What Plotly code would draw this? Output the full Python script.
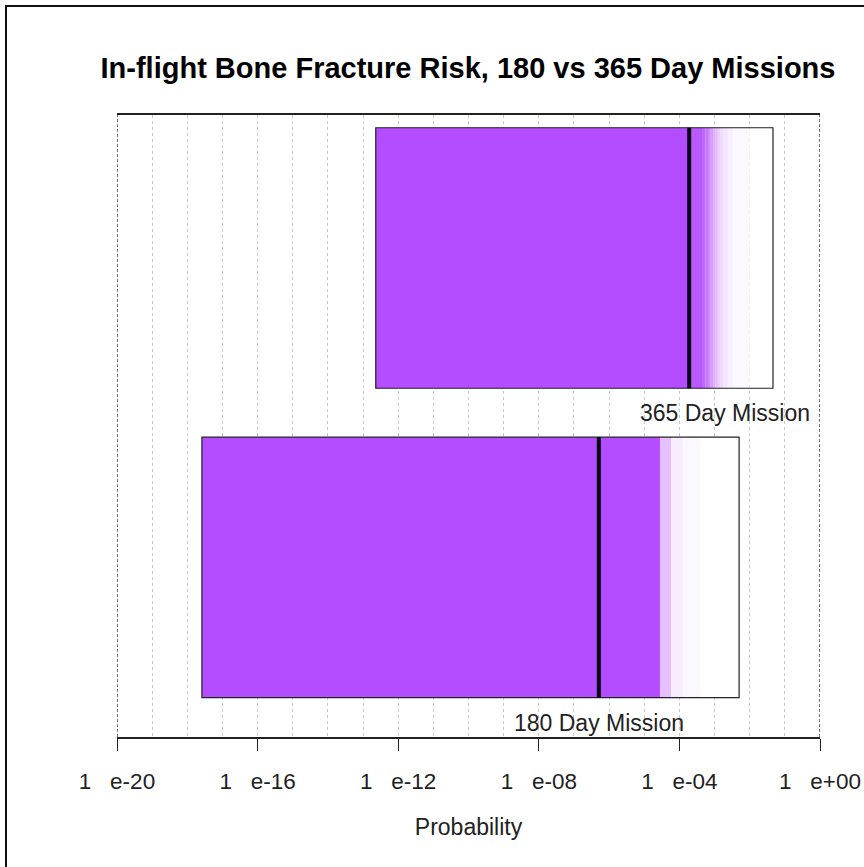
import numpy as np
import plotly.graph_objects as go

# ---- data (probabilities) ----
missions = ["180 Day Mission", "365 Day Mission"]
y_center = [0.651, 1.839]
lower = [2.6e-18, 2.3e-13]
upper = [5.0e-3, 4.6e-2]
median = [5.1e-7, 1.9e-4]

# shaded bands: upper edge of each band and its shade (1 = full purple, 0 = white)
band_edges_180 = [5.1e-7, 2.8e-5, 5.8e-5, 1.26e-4, 3.9e-4, 5.0e-3]
band_shade_180 = [1.0, 1.0, 0.35, 0.1, 0.04, 0.0]
band_edges_365 = [1.9e-4, 4.4e-4, 5.5e-4, 6.5e-4, 7.8e-4, 9.1e-4, 1.08e-3, 1.26e-3,
                  1.5e-3, 1.74e-3, 2.4e-3, 3.4e-3, 1.0e-2, 4.6e-2]
band_shade_365 = [1.0, 0.93, 0.86, 0.78, 0.66, 0.55, 0.44, 0.35, 0.27, 0.2, 0.14, 0.09, 0.04, 0.0]

label_x = [5.1e-7, 2.0e-3]
label_y = [0.054, 1.244]

tick_exp = list(range(-20, 1, 4))
tick_text = ["1\u00a0\u00a0\u00a0e-20", "1\u00a0\u00a0\u00a0e-16", "1\u00a0\u00a0\u00a0e-12",
             "1\u00a0\u00a0\u00a0e-08", "1\u00a0\u00a0\u00a0e-04", "1\u00a0\u00a0\u00a0e+00"]

PURPLE = (180, 76, 255)
FONT = "Liberation Sans, Arial"


def shade_col(s):
    r, g, b = (round(255 * (1 - s) + c * s) for c in PURPLE)
    return f"rgb({r},{g},{b})"


fig = go.Figure()

bands = [(band_edges_180, band_shade_180), (band_edges_365, band_shade_365)]
for i, (edges, shades) in enumerate(bands):
    lo = np.log10([lower[i]] + edges[:-1])
    hi = np.log10(edges)
    fig.add_trace(go.Bar(
        orientation="h", y=[y_center[i]] * len(hi), x=hi - lo, base=lo,
        width=1.0, marker=dict(color=[shade_col(s) for s in shades], line=dict(width=0)),
        showlegend=False, hoverinfo="skip"))
    # outline
    fig.add_trace(go.Bar(
        orientation="h", y=[y_center[i]], x=[np.log10(upper[i]) - np.log10(lower[i])],
        base=[np.log10(lower[i])], width=1.0,
        marker=dict(color="rgba(0,0,0,0)", line=dict(color="#222222", width=1.2)),
        showlegend=False, hoverinfo="skip"))
    # median line
    mx = np.log10(median[i])
    fig.add_trace(go.Scatter(
        x=[mx, mx], y=[y_center[i] - 0.5, y_center[i] + 0.5], mode="lines",
        line=dict(color="#0a0010", width=4), showlegend=False, hoverinfo="skip"))
    fig.add_annotation(x=np.log10(label_x[i]), y=label_y[i], text=missions[i],
                       showarrow=False, xanchor="center", yanchor="middle",
                       font=dict(family=FONT, size=23, color="#222222"))

# dark dashed lines at plot edges
for xe in [-20, 0]:
    fig.add_shape(type="line", x0=xe, x1=xe, y0=0, y1=1, xref="x", yref="paper",
                  line=dict(color="#444444", width=1.5, dash="3px,2px"))

# outer frame (top and left visible)
fig.add_shape(type="rect", xref="paper", yref="paper",
              x0=(6 - 117) / 703, x1=(880 - 117) / 703,
              y0=(737 - 880) / 622, y1=(737 - 6) / 622,
              line=dict(color="#111111", width=2), fillcolor="rgba(0,0,0,0)", layer="above")

fig.update_layout(
    width=864, height=867, autosize=False,
    margin=dict(l=117, r=44, t=115, b=130, autoexpand=False),
    paper_bgcolor="white", plot_bgcolor="white",
    barmode="overlay",
    title=dict(text="<b>In-flight Bone Fracture Risk, 180 vs 365 Day Missions</b>",
               x=(468 / 864), xanchor="center", y=1 - 68 / 867, yanchor="middle",
               font=dict(family=FONT, size=29, color="black")),
    font=dict(family=FONT, color="#222222"),
)
fig.update_xaxes(
    range=[-20, 0], tickmode="array", tickvals=tick_exp, ticktext=tick_text,
    ticks="outside", ticklen=12, tickwidth=1.2, tickcolor="#222222",
    ticklabelstandoff=11, automargin=False,
    tickfont=dict(family=FONT, size=22.5, color="#222222"),
    showline=True, linecolor="#222222", linewidth=1.5, mirror=True,
    showgrid=True, gridcolor="#c8c8c8", griddash="dot", gridwidth=1,
    minor=dict(tickvals=list(range(-20, 1)), showgrid=True, gridcolor="#c8c8c8",
               griddash="dot", gridwidth=1, ticks=""),
    zeroline=False,
    title=dict(text="Probability", standoff=26,
               font=dict(family=FONT, size=23, color="#222222")),
)
fig.update_yaxes(range=[0, 2.388], showticklabels=False, showgrid=False, zeroline=False,
                 showline=False, ticks="", automargin=False)

fig.write_html("out.html", config={"displayModeBar": False},
               post_script="document.body.style.margin='0';document.body.style.overflow='hidden';")
